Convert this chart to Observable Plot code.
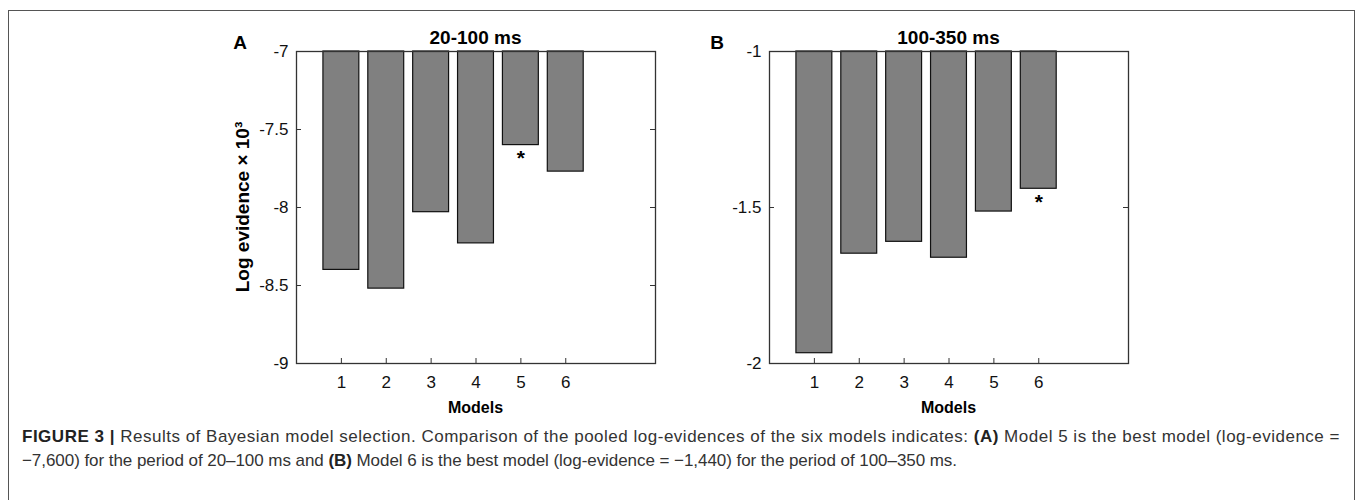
<!DOCTYPE html>
<html>
<head>
<meta charset="utf-8">
<script src="https://cdn.jsdelivr.net/npm/d3@7"></script>
<script src="https://cdn.jsdelivr.net/npm/@observablehq/plot@0.6"></script>
<style>
  html, body { margin: 0; padding: 0; background: #fff; }
  #root { position: relative; width: 1360px; height: 500px; overflow: hidden; font-family: "Liberation Sans", Arial, sans-serif; }
  #border { position: absolute; left: 8px; top: 10px; width: 1347px; height: 520px; border: 1.5px solid #555; box-sizing: border-box; }
  .panel { position: absolute; top: 0; }
  .t { position: absolute; white-space: nowrap; color: #000; }
  .title { font-weight: bold; font-size: 19px; transform: translate(-50%, -50%); }
  .letter { font-weight: bold; font-size: 19px; transform: translate(-50%, -50%); }
  .ylab { font-weight: bold; font-size: 19px; transform: translate(-50%, -50%) rotate(-90deg); }
  .xlab { font-weight: bold; font-size: 16px; transform: translate(-50%, -50%); }
  .cap { position: absolute; left: 22px; font-size: 17px; color: #333; white-space: nowrap; transform: translateY(-50%); }
  .cap b { color: #222; }
</style>
</head>
<body>
<div id="root">
  <div id="border"></div>
</div>
<script>
// ---- data ----
const models = [1, 2, 3, 4, 5, 6];
const evidenceA = [-8.40, -8.52, -8.03, -8.23, -7.60, -7.77];   // x 10^3, 20-100 ms
const evidenceB = [-1.967, -1.648, -1.610, -1.661, -1.513, -1.440]; // x 10^3, 100-350 ms
const yTicksA = [-9, -8.5, -8, -7.5, -7];
const yTicksB = [-2, -1.5, -1];
const xTicks = [1, 2, 3, 4, 5, 6];
const bestA = 5;
const bestB = 6;
const titles = ["20-100 ms", "100-350 ms"];
const letters = ["A", "B"];
const yLabel = "Log evidence \u00d7 10\u00b3";
const xLabel = "Models";

const root = document.getElementById("root");

function panel(values, yTicks, best, left) {
  const data = models.map((m, i) => ({model: m, value: values[i]}));
  const top = d3.max(yTicks), bottom = d3.min(yTicks);
  const W = 470, H = 420, mL = 106, mR = 5, mT = 51, mB = 57;
  const fw = W - mL - mR, fh = H - mT - mB;
  const chart = Plot.plot({
    width: W, height: H,
    marginLeft: mL, marginRight: mR, marginTop: mT, marginBottom: mB,
    style: {fontFamily: "Liberation Sans, Arial, sans-serif", fontSize: "17px", color: "#111", background: "transparent"},
    x: {domain: [0, 8]},
    y: {domain: [bottom, top]},
    marks: [
      Plot.axisY(yTicks, {tickSize: 0, tickPadding: 8, tickFormat: d => String(d), label: null, fontSize: 17}),
      Plot.axisX(xTicks, {tickSize: 0, tickPadding: 12, tickFormat: d => String(d), label: null, fontSize: 17}),
      Plot.tickY(yTicks, {y: d => d, stroke: "#333", insetRight: fw - 5}),
      Plot.tickY(yTicks, {y: d => d, stroke: "#333", insetLeft: fw - 5}),
      Plot.tickX(xTicks, {x: d => d, stroke: "#333", insetTop: fh - 5}),
      Plot.rect(data, {x1: d => d.model - 0.4, x2: d => d.model + 0.4, y1: top, y2: "value", fill: "#808080", stroke: "#111", strokeWidth: 1.2}),
      Plot.text(data.filter(d => d.model === best), {x: "model", y: "value", text: () => "*", dy: 13, fontSize: 21, fontWeight: "bold", fill: "#000"}),
      Plot.frame({stroke: "#333", strokeWidth: 1.3})
    ]
  });
  chart.classList.add("panel");
  chart.style.left = left + "px";
  root.appendChild(chart);
  return {cx: left + mL + fw / 2, fl: left + mL};
}

const pA = panel(evidenceA, yTicksA, bestA, 190);
const pB = panel(evidenceB, yTicksB, bestB, 663);

function addText(cls, txt, x, y) {
  const d = document.createElement("div");
  d.className = "t " + cls;
  d.textContent = txt;
  d.style.left = x + "px";
  d.style.top = y + "px";
  root.appendChild(d);
}
addText("title", titles[0], pA.cx, 38);
addText("title", titles[1], pB.cx, 38);
addText("letter", letters[0], 240, 43);
addText("letter", letters[1], 717, 43);
addText("ylab", yLabel, 243, 207);
addText("xlab", xLabel, pA.cx, 408);
addText("xlab", xLabel, pB.cx, 408);

function caption(html, y, targetRight) {
  const c = document.createElement("div");
  c.className = "cap";
  c.style.top = y + "px";
  c.innerHTML = html;
  root.appendChild(c);
  const w = c.getBoundingClientRect().width;
  const n = c.textContent.length;
  c.style.letterSpacing = ((targetRight - 22 - w) / n) + "px";
}
caption("<b>FIGURE 3 |</b> Results of Bayesian model selection. Comparison of the pooled log-evidences of the six models indicates: <b>(A)</b> Model 5 is the best model (log-evidence =", 437, 1340);
caption("\u22127,600) for the period of 20\u2013100 ms and <b>(B)</b> Model 6 is the best model (log-evidence = \u22121,440) for the period of 100\u2013350 ms.", 461, 957);
</script>
</body>
</html>
